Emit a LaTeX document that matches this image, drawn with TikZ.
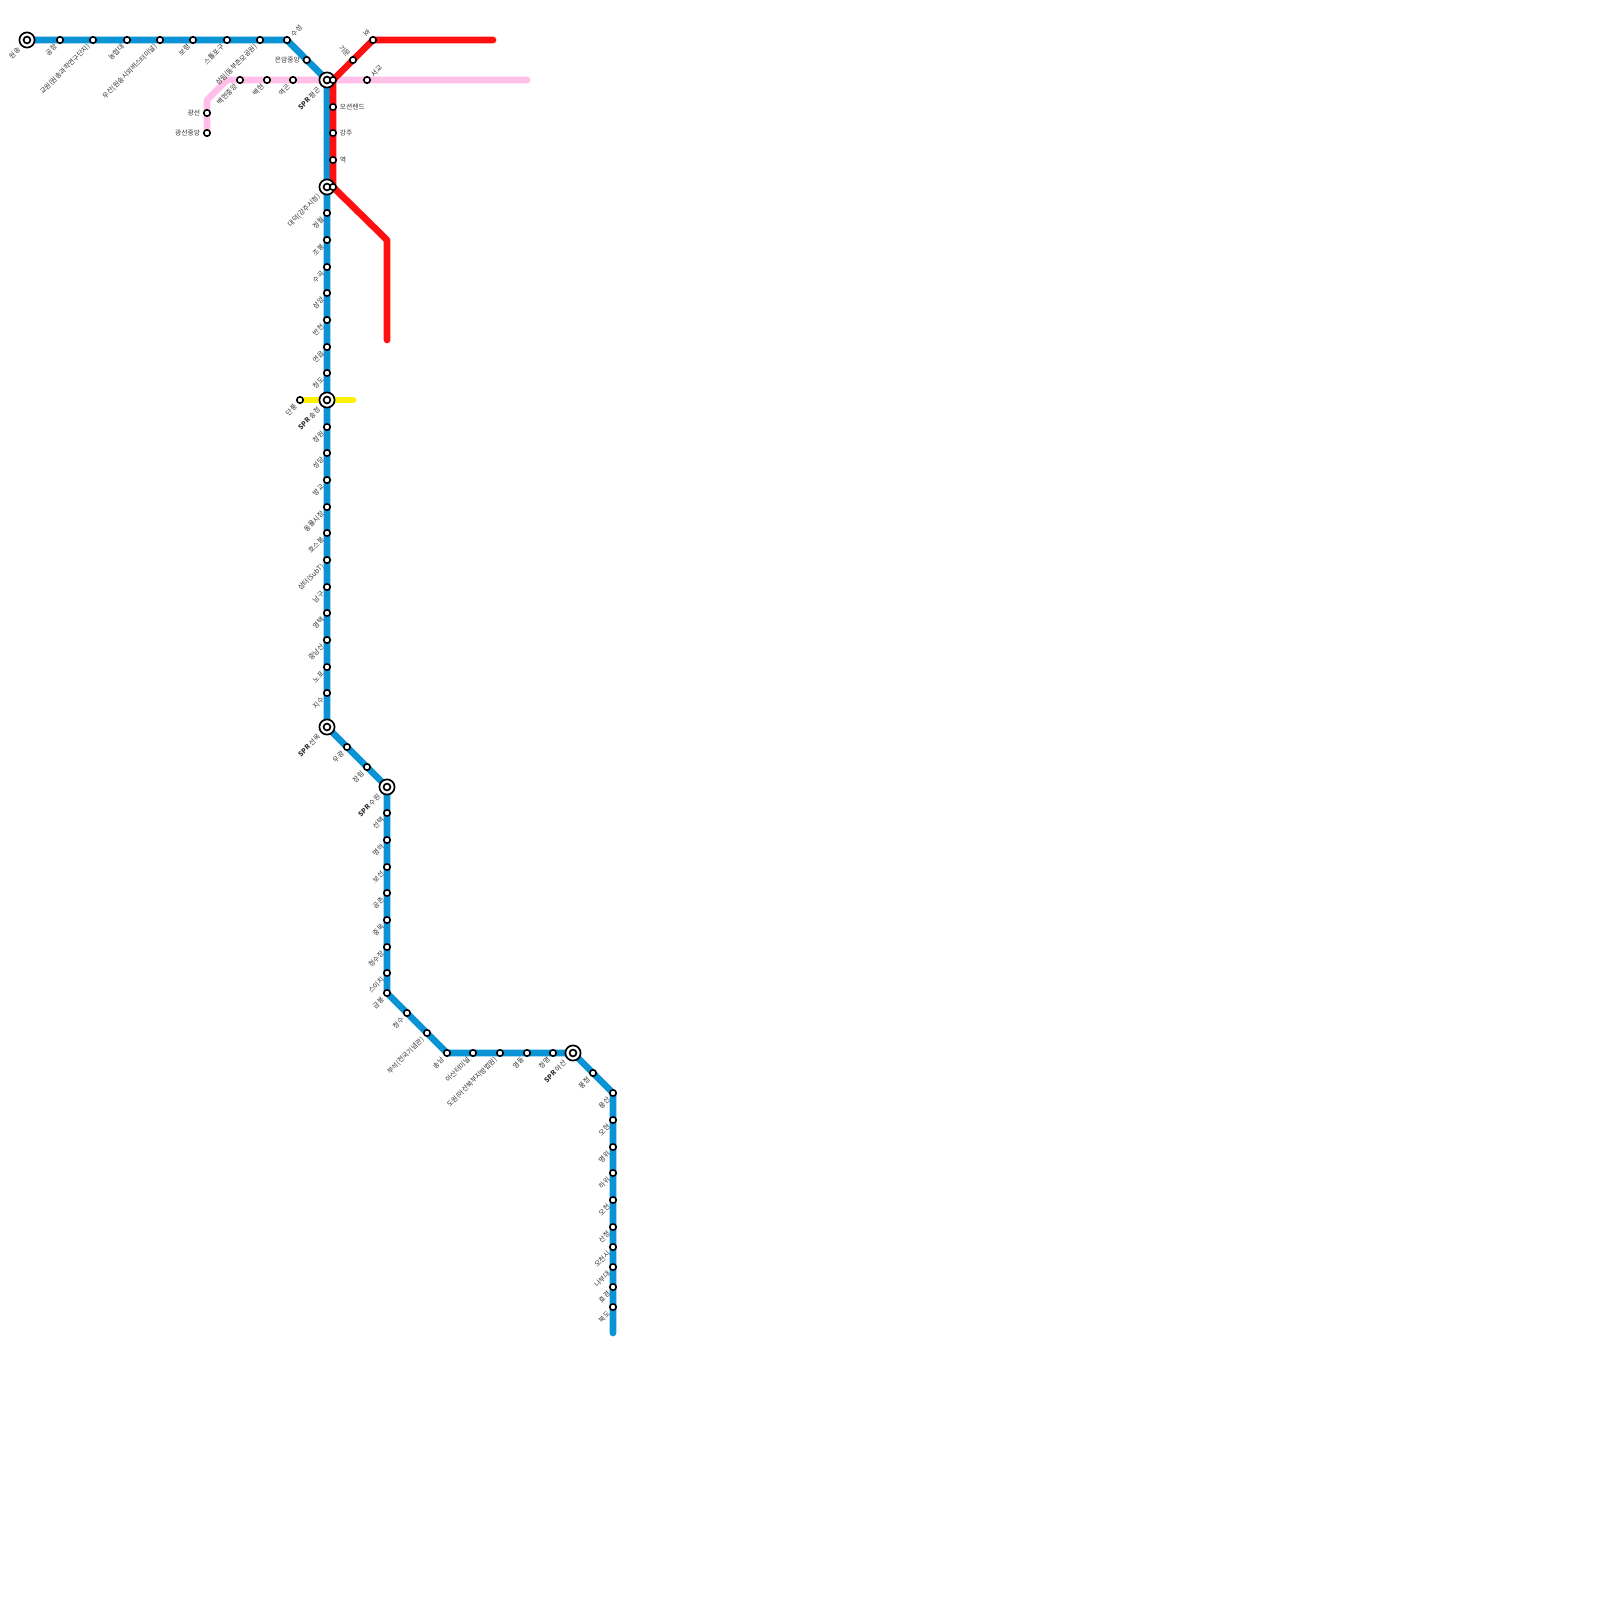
\documentclass[tikz,border=0pt]{standalone}
\usepackage{fontspec}
\setmainfont{Noto Sans CJK KR}
\usetikzlibrary{backgrounds}
\definecolor{lblue}{HTML}{0A94D6}
\definecolor{lred}{HTML}{FF1010}
\definecolor{lpink}{HTML}{FFBFE8}
\definecolor{lyellow}{HTML}{FFF200}
\tikzset{
  stn/.style={circle,draw=black,fill=white,line width=0.8pt,minimum size=3.2pt,inner sep=0pt},
  hubout/.style={circle,draw=black,fill=white,line width=0.85pt,minimum size=7.6pt,inner sep=0pt},
  hubin/.style={circle,draw=black,fill=white,line width=0.85pt,minimum size=3.4pt,inner sep=0pt},
  lbl/.style={font=\fontsize{3.4}{4}\selectfont,text=black!80,inner sep=0pt},
  lsw/.style={lbl,xshift=-2pt,yshift=-2.7pt,rotate=45,anchor=east},
  lsh/.style={lbl,xshift=-3.9pt,yshift=-4.2pt,rotate=45,anchor=east},
  lne/.style={lbl,xshift=2.4pt,yshift=2.2pt,rotate=45,anchor=west},
  lnw/.style={lbl,xshift=-1.9pt,yshift=2.2pt,rotate=-45,anchor=east},
  lw/.style={lbl,xshift=-3.2pt,anchor=east},
  le/.style={lbl,xshift=3.2pt,anchor=west},
  route/.style={line width=3.35pt,line cap=round,line join=round},
}
\newcommand{\st}[5]{\node[stn] (#1) at (#2,#3) {}; \node[#4] (#1l) at (#1) {#5};}
\newcommand{\hb}[5]{\node[hubout] (#1) at (#2,#3) {}; \node[hubin] (#1i) at (#1) {}; \node[#4] (#1l) at (#1) {#5};}
\newcommand{\spr}{\textbf{SPR}}
\begin{document}
\begin{tikzpicture}[x=0.5pt,y=-0.5pt]
\useasboundingbox (0,0) rectangle (1600,1600);
% hubs
\hb{h0}{27}{40}{lsh}{원송}
\hb{h1}{327}{80}{lsh}{\spr{} 평곤}
\hb{h2}{327}{187}{lsh}{대덕(강주시청)}
\hb{h3}{327}{400}{lsh}{\spr{} 송정}
\hb{h4}{327}{727}{lsh}{\spr{} 선목}
\hb{h5}{387}{787}{lsh}{\spr{} 수원}
\hb{h6}{573}{1053}{lsh}{\spr{} 아산}
% blue
\st{b1}{60}{40}{lsw}{공항}
\st{b2}{93}{40}{lsw}{교원(원송과학연구단지)}
\st{b3}{127}{40}{lsw}{농협대}
\st{b4}{160}{40}{lsw}{우산(원송시외버스터미널)}
\st{b5}{193}{40}{lsw}{보령}
\st{b6}{227}{40}{lsw}{스톨포구}
\st{b7}{260}{40}{lsw}{삼림(동부촌모공원)}
\st{b8}{287}{40}{lne}{수성}
\st{b9}{306.7}{60}{lw}{은암중앙}
\st{c1}{327}{213}{lsw}{정월}
\st{c2}{327}{240}{lsw}{조봉}
\st{c3}{327}{267}{lsw}{수곡}
\st{c4}{327}{293}{lsw}{삼양}
\st{c5}{327}{320}{lsw}{반천}
\st{c6}{327}{347}{lsw}{연읍}
\st{c7}{327}{373}{lsw}{청도}
\st{d1}{327}{427}{lsw}{창원}
\st{d2}{327}{453}{lsw}{성당}
\st{d3}{327}{480}{lsw}{방교}
\st{d4}{327}{507}{lsw}{동율시장}
\st{d5}{327}{533}{lsw}{호스봉}
\st{d6}{327}{560}{lsw}{삼터(SubT)}
\st{d7}{327}{587}{lsw}{남구}
\st{d8}{327}{613}{lsw}{영택}
\st{d9}{327}{640}{lsw}{중남산}
\st{d10}{327}{667}{lsw}{노포}
\st{d11}{327}{693}{lsw}{지수}
\st{e1}{347}{747}{lsw}{우광}
\st{e2}{367}{767}{lsw}{장림}
\st{f1}{387}{813}{lsw}{선택}
\st{f2}{387}{840}{lsw}{명하}
\st{f3}{387}{867}{lsw}{보선}
\st{f4}{387}{893}{lsw}{공촌}
\st{f5}{387}{920}{lsw}{중목}
\st{f6}{387}{947}{lsw}{청수장}
\st{f7}{387}{973}{lsw}{스이치}
\st{f8}{387}{993}{lsw}{금봉}
\st{g1}{407}{1013}{lsw}{청수}
\st{g2}{427}{1033}{lsw}{부석(전국기념관)}
\st{g3}{447}{1053}{lsw}{송남}
\st{g4}{473}{1053}{lsw}{아산터미널}
\st{g5}{500}{1053}{lsw}{도원(아산북부지방법원)}
\st{g6}{527}{1053}{lsw}{영동}
\st{g7}{553}{1053}{lsw}{청명}
\st{k1}{593}{1073}{lsw}{풍정}
\st{k2}{613}{1093}{lsw}{용산}
\st{k3}{613}{1120}{lsw}{오현}
\st{k4}{613}{1147}{lsw}{명위}
\st{k5}{613}{1173}{lsw}{하위}
\st{k6}{613}{1200}{lsw}{오천}
\st{k7}{613}{1227}{lsw}{산정}
\st{k8}{613}{1247}{lsw}{오천시}
\st{k9}{613}{1267}{lsw}{나부대}
\st{k10}{613}{1287}{lsw}{효경}
\st{k11}{613}{1307}{lsw}{북도}
% red
\st{r1}{373}{40}{lnw}{호}
\st{r2}{353}{60}{lnw}{기문}
\node[stn] (r3) at (333,80) {};
\st{r4}{333}{107}{le}{오션렌드}
\st{r5}{333}{133}{le}{강주}
\st{r6}{333}{160}{le}{역}
\node[stn] (r7) at (333,187) {};
% pink
\st{p1}{207}{133}{lw}{광선중앙}
\st{p2}{207}{113}{lw}{광선}
\st{p3}{240}{80}{lsw}{백현중앙}
\st{p4}{267}{80}{lsw}{백현}
\st{p5}{293}{80}{lsw}{역곤}
\st{p6}{367}{80}{lne}{서교}
% yellow
\st{y1}{300}{400}{lsw}{단풍}
% free coordinates
\coordinate (pc1) at (207,100);
\coordinate (pc2) at (227,80);
\coordinate (pe) at (527,80);
\coordinate (ye) at (353,400);
\coordinate (re) at (493,40);
\coordinate (rc1) at (387,240);
\coordinate (rc2) at (387,340);
\coordinate (be) at (613,1333);
\begin{scope}[on background layer]
\fill[white] (0,0) rectangle (1600,1600);
\draw[route,lpink] (p1.center) -- (p2.center) -- (pc1) -- (pc2) -- (p3.center) -- (p4.center) -- (p5.center) -- (h1.center) -- (p6.center) -- (pe);
\draw[route,lyellow] (y1.center) -- (h3.center) -- (ye);
\draw[route,lblue] (h0.center) -- (b1.center) -- (b8.center) -- (b9.center) -- (h1.center) -- (h2.center) -- (h3.center) -- (h4.center) -- (h5.center) -- (f8.center) -- (g3.center) -- (h6.center) -- (k2.center) -- (be);
\draw[route,lred] (re) -- (r1.center) -- (r3.center) -- (r7.center) -- (rc1) -- (rc2);
\end{scope}
\end{tikzpicture}
\end{document}
